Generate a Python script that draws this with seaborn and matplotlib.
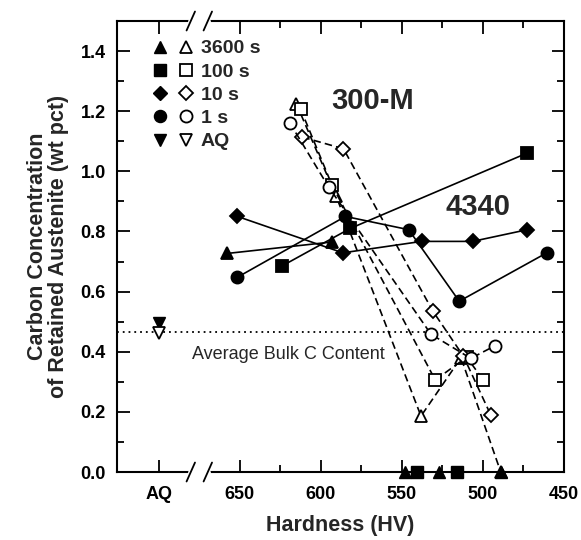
import numpy as np
import pandas as pd
import matplotlib
matplotlib.use("Agg")
import matplotlib.pyplot as plt
import matplotlib.transforms as mtransforms
import seaborn as sns
from matplotlib.lines import Line2D
from matplotlib.legend_handler import HandlerTuple

# ---------------- data ----------------
# 4340 steel (solid lines, filled markers)
hv_4340_3600 = [657.6, 593.2]
c_4340_3600 = [0.727, 0.765]
hv_4340_100 = [624.0, 581.9, 472.6]
c_4340_100 = [0.685, 0.810, 1.061]
hv_4340_10 = [651.4, 586.4, 537.8, 506.4, 472.6]
c_4340_10 = [0.850, 0.729, 0.767, 0.767, 0.806]
hv_4340_1 = [651.7, 584.8, 545.8, 514.6, 460.6]
c_4340_1 = [0.647, 0.850, 0.806, 0.568, 0.729]

# 300-M steel (dashed lines, open markers)
hv_300m_3600 = [615.1, 590.5, 538.2, 513.5, 489.0]
c_300m_3600 = [1.225, 0.917, 0.186, 0.380, 0.0]
hv_300m_100 = [612.5, 593.0, 529.4, 510.0, 499.8]
c_300m_100 = [1.208, 0.953, 0.306, 0.382, 0.306]
hv_300m_10 = [611.4, 586.0, 531.0, 512.0, 495.1]
c_300m_10 = [1.114, 1.075, 0.536, 0.385, 0.189]
hv_300m_1 = [619.2, 595.2, 532.0, 507.5, 492.5]
c_300m_1 = [1.162, 0.948, 0.458, 0.378, 0.420]

# points with no measurable carbon
hv_zero_3600 = [547.8, 527.0, 489.0]
hv_zero_100 = [540.6, 516.0]

# as-quenched
hv_aq = [700.0]
c_aq_4340 = [0.496]
c_aq_300m = [0.461]
bulk_c = 0.465

legend_labels = ["3600 s", "100 s", "10 s", "1 s", "AQ"]
x_tick_vals = [700, 650, 600, 550, 500, 450]
x_tick_labels = ["AQ", "650", "600", "550", "500", "450"]

# ---------------- style ----------------
sns.set_theme(style="ticks")
plt.rcParams["font.family"] = ["Liberation Sans", "DejaVu Sans"]

fig = plt.figure(figsize=(5.81, 5.40), dpi=100)
ax = fig.add_axes([0.2014, 0.1259, 0.7693, 0.8352])

ms = {"^": 8.5, "s": 8.5, "D": 7.6, "o": 8.7, "v": 8.5}
lw = 1.2
dash = (4.5, 2.5)

def draw(hv, c, marker, filled, dashed):
    df = pd.DataFrame({"hv": hv, "c": c})
    kw = dict(marker=marker, markersize=ms[marker], color="black",
              markeredgecolor="black", markeredgewidth=1.3,
              markerfacecolor="black" if filled else "white",
              linewidth=lw, clip_on=False, zorder=4 if filled else 3)
    if dashed:
        kw["dashes"] = dash
    sns.lineplot(data=df, x="hv", y="c", sort=False, estimator=None,
                 ax=ax, legend=False, **kw)

draw(hv_4340_3600, c_4340_3600, "^", True, False)
draw(hv_4340_100, c_4340_100, "s", True, False)
draw(hv_4340_10, c_4340_10, "D", True, False)
draw(hv_4340_1, c_4340_1, "o", True, False)

draw(hv_300m_3600, c_300m_3600, "^", False, True)
draw(hv_300m_100, c_300m_100, "s", False, True)
draw(hv_300m_10, c_300m_10, "D", False, True)
draw(hv_300m_1, c_300m_1, "o", False, True)

# zero points (filled)
for hv, mk in [(hv_zero_3600, "^"), (hv_zero_100, "s")]:
    ax.plot(hv, [0.0] * len(hv), ls="none", marker=mk, ms=ms[mk],
            color="black", mec="black", clip_on=False, zorder=6)

# AQ points
ax.plot(hv_aq, c_aq_4340, ls="none", marker="v", ms=ms["v"], color="black",
        clip_on=False, zorder=5)
ax.plot(hv_aq, c_aq_300m, ls="none", marker="v", ms=ms["v"], mfc="white",
        mec="black", mew=1.3, clip_on=False, zorder=5)

# average bulk C line
ax.axhline(bulk_c, color="black", lw=1.3, ls=(0, (1, 2.2)), zorder=2)
ax.text(679.7, 0.392, "Average Bulk C Content", fontsize=13, va="center",
        ha="left")

# labels in plot
ax.text(568.3, 1.234, "300-M", fontsize=21, fontweight="bold",
        ha="center", va="center")
ax.text(502.8, 0.883, "4340", fontsize=21, fontweight="bold",
        ha="center", va="center")

# axes
ax.set_xlim(725.7, 450)
ax.set_ylim(0, 1.5)
ax.set_xticks(x_tick_vals)
ax.set_xticklabels(x_tick_labels)
ax.set_xticks([625, 575, 525, 475], minor=True)
ax.set_yticks(np.arange(0, 1.41, 0.2))
ax.set_yticklabels([f"{v:.1f}" for v in np.arange(0, 1.41, 0.2)])
ax.set_yticks(np.arange(0.1, 1.5, 0.2), minor=True)
ax.tick_params(axis="both", which="both", direction="in", top=True,
               right=True, width=1.3, colors="black")
ax.tick_params(which="major", length=9, labelsize=13)
ax.tick_params(axis="x", which="major", pad=10)
ax.tick_params(axis="y", which="major", pad=8)
ax.tick_params(which="minor", length=5)
for t in ax.get_xticklabels() + ax.get_yticklabels():
    t.set_fontweight("bold")
for s in ax.spines.values():
    s.set_linewidth(1.5)
    s.set_color("black")

ax.set_xlabel("Hardness (HV)", fontsize=15.5, fontweight="bold", labelpad=9)
ax.set_ylabel("Carbon Concentration\nof Retained Austenite (wt pct)",
              fontsize=15.5, fontweight="bold", labelpad=8, linespacing=1.0)

# axis break marks
trans = mtransforms.blended_transform_factory(ax.transData, ax.transAxes)
for yb in (0.0, 1.0):
    ax.plot([680.5, 669.5], [yb, yb], color="white", lw=3.5,
            transform=trans, clip_on=False, zorder=7)
    for xc in (680.2, 669.7):
        ax.plot([xc + 2.6, xc - 2.6], [yb - 0.021, yb + 0.021], color="black",
                lw=1.3, transform=trans, clip_on=False, zorder=8)

# legend
handles = []
for mk in ["^", "s", "D", "o", "v"]:
    f = Line2D([], [], ls="none", marker=mk, ms=ms[mk], color="black")
    o = Line2D([], [], ls="none", marker=mk, ms=ms[mk], mfc="white",
               mec="black", mew=1.3)
    handles.append((f, o))
leg = ax.legend(handles, legend_labels,
                handler_map={tuple: HandlerTuple(ndivide=None, pad=0.45)},
                loc="upper left", bbox_to_anchor=(0.052, 0.984), frameon=False,
                handlelength=2.2, handletextpad=0.3, labelspacing=0.29,
                borderaxespad=0.2, prop={"size": 14, "weight": "bold"})

fig.savefig("out.png", dpi=100)
